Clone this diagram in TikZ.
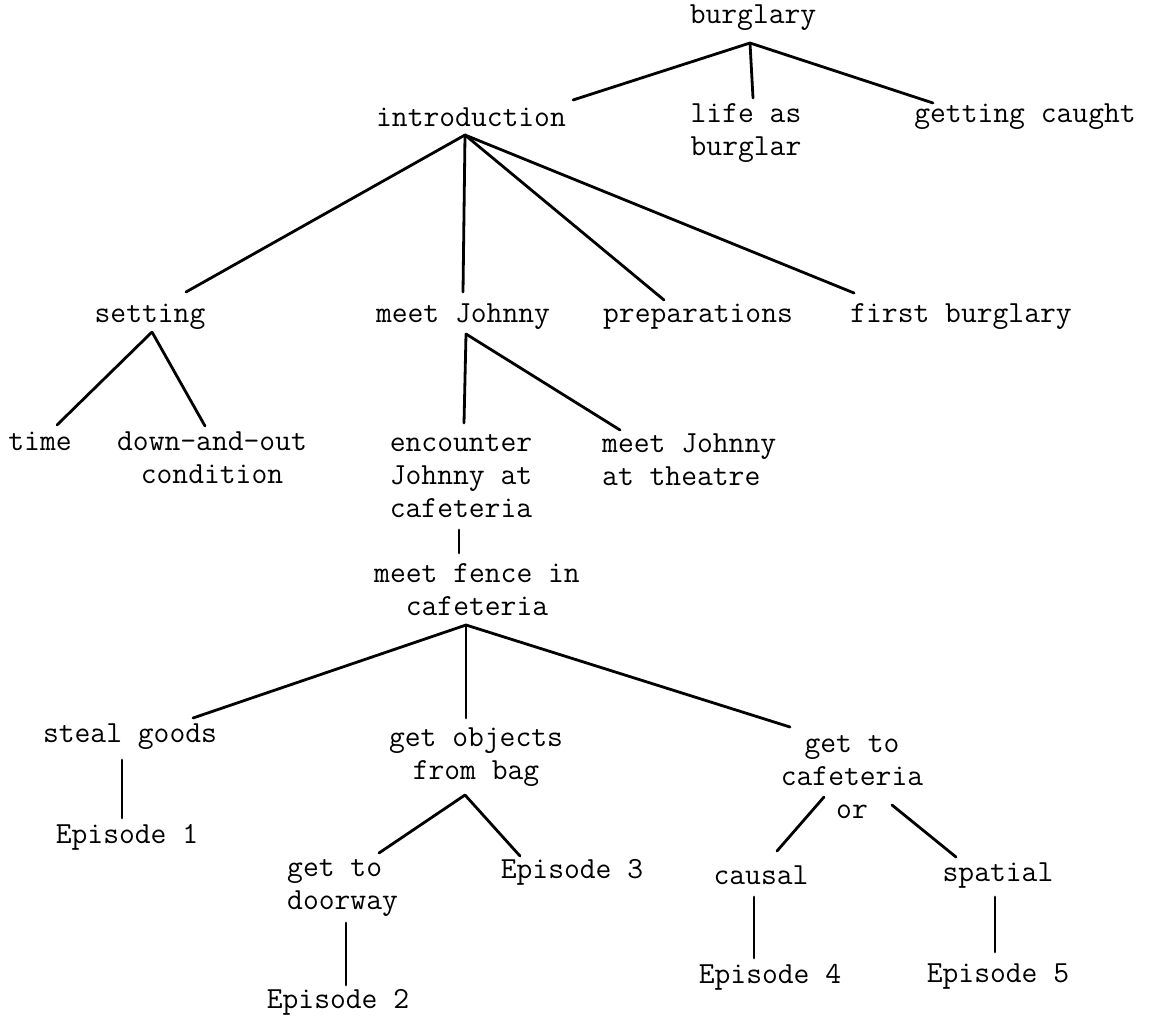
\documentclass[tikz,border=0pt]{standalone}
\usepackage{fontspec}
\begin{document}
\begin{tikzpicture}[x=1pt,y=-1pt,
                word/.style={font=\ttfamily\addfontfeatures{FakeBold=2.5}\fontsize{30.7}{33}\selectfont,align=center,inner sep=0pt},
                branch/.style={line width=2.8pt,line cap=round}]
                \useasboundingbox (0,0) rectangle (1166,1017);
                \node[word] (burglary) at (753,18) {burglary};
                \node[word] (intro) at (471,117) {introduction};
                \node[word] (life) at (746,133) {life as\\burglar};
                \node[word] (caught) at (1025,117) {getting caught};
                \node[word] (setting) at (150,317) {setting};
                \node[word] (meetj) at (463,317) {meet Johnny};
                \node[word] (prep) at (698,317) {preparations};
                \node[word] (first) at (961,317) {first burglary};
                \node[word] (time) at (40,441) {time};
                \node[word] (down) at (212,458) {down-and-out\\condition};
                \node[word] (encounter) at (461,476) {encounter\\Johnny at\\cafeteria};
                \node[word,align=left,anchor=west] (theatre) at (602,460) {meet Johnny\\at theatre};
                \node[word] (fence) at (477,590) {meet fence in\\cafeteria};
                \node[word] (steal) at (130,737) {steal goods};
                \node[word] (objects) at (476,757) {get objects\\from bag};
                \node[word] (cafe) at (852,777) {get to\\cafeteria\\or};
                \node[word] (ep1) at (127,837) {Episode 1};
                \node[word,align=left,anchor=west] (doorway) at (287,888) {get to\\doorway};
                \node[word] (ep3) at (572,872) {Episode 3};
                \node[word] (causal) at (761,875) {causal};
                \node[word] (spatial) at (998,876) {spatial};
                \node[word] (ep4) at (770,977) {Episode 4};
                \node[word] (ep5) at (998,977) {Episode 5};
                \node[word] (ep2) at (338,1002) {Episode 2};
                \draw[branch] ([shift={(-3,25)}]burglary.center) -- ([shift={(102,-17)}]intro.center);
                \draw[branch] ([shift={(-3,25)}]burglary.center) -- ([shift={(7,-35)}]life.center);
                \draw[branch] ([shift={(-3,25)}]burglary.center) -- ([shift={(-92,-14)}]caught.center);
                \draw[branch] ([shift={(-6,18)}]intro.center) -- ([shift={(36,-25)}]setting.center);
                \draw[branch] ([shift={(-6,18)}]intro.center) -- ([shift={(0,-25)}]meetj.center);
                \draw[branch] ([shift={(-6,18)}]intro.center) -- ([shift={(-34,-17)}]prep.center);
                \draw[branch] ([shift={(-6,18)}]intro.center) -- ([shift={(-107,-24)}]first.center);
                \draw[branch] ([shift={(2,15)}]setting.center) -- ([shift={(17,-16)}]time.center);
                \draw[branch] ([shift={(2,15)}]setting.center) -- ([shift={(-7,-32)}]down.center);
                \draw[branch] ([shift={(3,17)}]meetj.center) -- ([shift={(3,-53)}]encounter.center);
                \draw[branch] ([shift={(3,17)}]meetj.center) -- ([shift={(18,-30)}]theatre.west);
                \draw[branch] ([shift={(-2,54)}]encounter.center) -- ([shift={(-18,-37)}]fence.center);
                \draw[branch] ([shift={(-11,35)}]fence.center) -- ([shift={(63,-19)}]steal.center);
                \draw[branch] ([shift={(-11,35)}]fence.center) -- ([shift={(-10,-39)}]objects.center);
                \draw[branch] ([shift={(-11,35)}]fence.center) -- ([shift={(-62,-50)}]cafe.center);
                \draw[branch] ([shift={(-8,23)}]steal.center) -- ([shift={(-5,-19)}]ep1.center);
                \draw[branch] ([shift={(-11,38)}]objects.center) -- ([shift={(92,-35)}]doorway.west);
                \draw[branch] ([shift={(-11,38)}]objects.center) -- ([shift={(-52,-16)}]ep3.center);
                \draw[branch] ([shift={(59,35)}]doorway.west) -- ([shift={(8,-17)}]ep2.center);
                \draw[branch] ([shift={(-28,20)}]cafe.center) -- ([shift={(16,-24)}]causal.center);
                \draw[branch] ([shift={(40,28)}]cafe.center) -- ([shift={(-42,-19)}]spatial.center);
                \draw[branch] ([shift={(-7,22)}]causal.center) -- ([shift={(-16,-19)}]ep4.center);
                \draw[branch] ([shift={(-3,21)}]spatial.center) -- ([shift={(-3,-25)}]ep5.center);
\end{tikzpicture}
\end{document}
